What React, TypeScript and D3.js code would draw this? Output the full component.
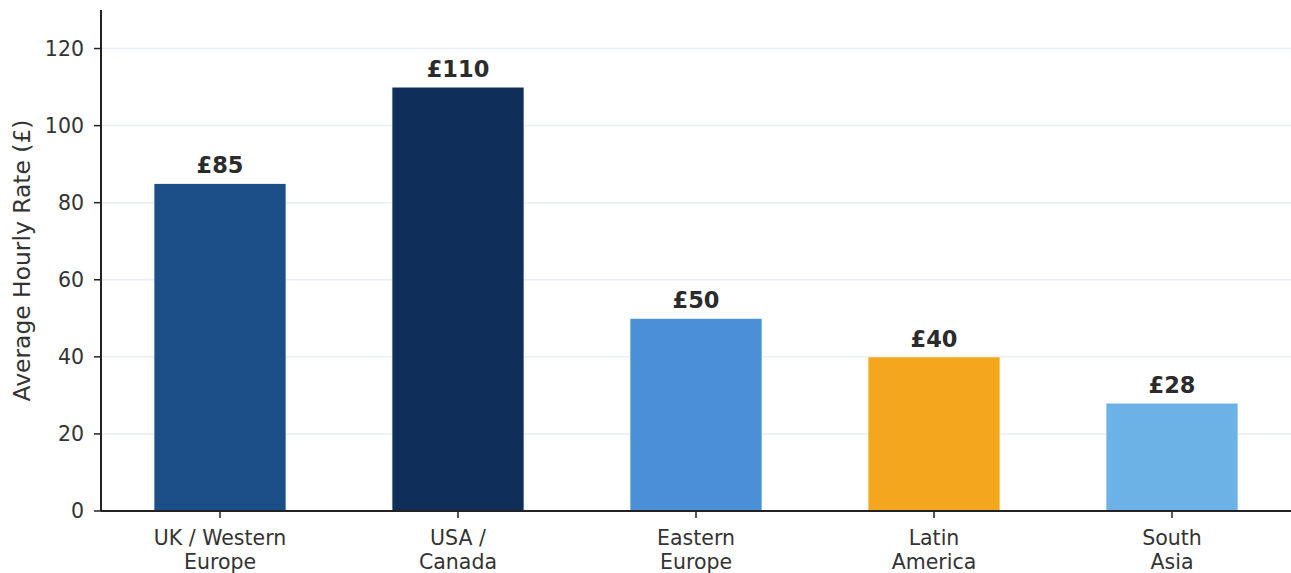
import React from "react";
import * as d3 from "d3";

const categories = [["UK / Western", "Europe"], ["USA /", "Canada"], ["Eastern", "Europe"], ["Latin", "America"], ["South", "Asia"]];
const values = [85, 110, 50, 40, 28];
const colors = ["#1c4f87", "#0f2e5a", "#4a90d9", "#f2a71e", "#6cb2e6"];
const yTicks = [0, 20, 40, 60, 80, 100, 120];
const yLabel = "Average Hourly Rate (£)";

export default function App() {
  const W = 1291, H = 573;
  const left = 101, right = 1291, top = 10, bottom = 511;
  const keys = categories.map((c) => c.join(" "));
  const x = d3.scaleBand<string>().domain(keys).range([left, right]).paddingInner(0.445).paddingOuter(0.2225);
  const y = d3.scaleLinear().domain([0, 130]).range([bottom, top]);
  const font = "DejaVu Sans, sans-serif";
  return (
    <svg width={W} height={H} style={{ position: "absolute", left: 0, top: 0, background: "#fff" }} fontFamily={font}>
      {yTicks.map((t) => (
        <g key={t}>
          {t > 0 && <line x1={left} x2={right} y1={y(t)} y2={y(t)} stroke="#e9eef4" strokeWidth={1.5} />}
          <line x1={left - 7} x2={left} y1={y(t)} y2={y(t)} stroke="#222" strokeWidth={1.5} />
          <text x={left - 17} y={y(t)} dy="0.36em" textAnchor="end" fontSize={20.5} fill="#333">{t}</text>
        </g>
      ))}
      {values.map((v, i) => {
        const k = keys[i];
        const x0 = x(k)!;
        const cx = x0 + x.bandwidth() / 2;
        return (
          <g key={k}>
            <rect x={x0} y={y(v)} width={x.bandwidth()} height={y(0) - y(v)} fill={colors[i]} stroke="#fff" strokeWidth={0.8} />
            <text x={cx} y={y(v) - 10} textAnchor="middle" fontSize={22.5} fontWeight="bold" fill="#2b2b2b">£{v}</text>
            <line x1={cx} x2={cx} y1={bottom} y2={bottom + 7} stroke="#222" strokeWidth={1.5} />
            {categories[i].map((line, j) => (
              <text key={j} x={cx} y={545 + j * 24} textAnchor="middle" fontSize={20.5} fill="#333">{line}</text>
            ))}
          </g>
        );
      })}
      <line x1={left} x2={left} y1={top} y2={bottom} stroke="#222" strokeWidth={2} />
      <line x1={left} x2={right} y1={bottom} y2={bottom} stroke="#222" strokeWidth={2} />
      <text transform={`translate(30, ${(top + bottom) / 2}) rotate(-90)`} textAnchor="middle" fontSize={23.4} fill="#333">{yLabel}</text>
    </svg>
  );
}
